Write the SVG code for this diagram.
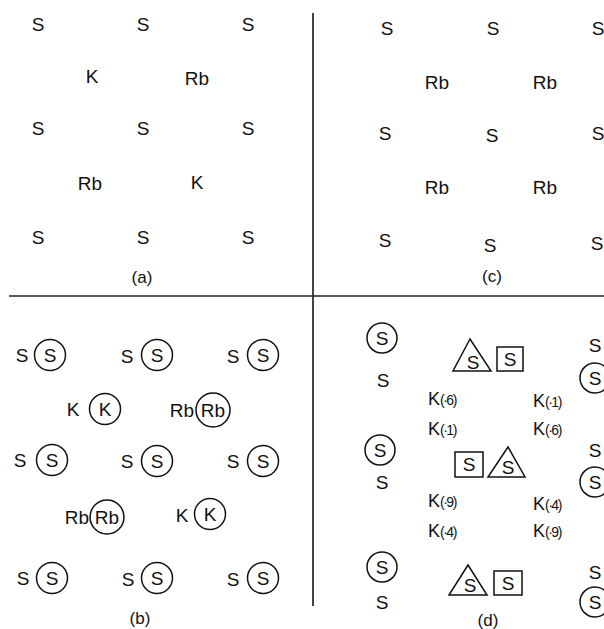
<svg xmlns="http://www.w3.org/2000/svg" width="604" height="629" viewBox="0 0 604 629">
<style>
text{font-family:"Liberation Sans","DejaVu Sans",sans-serif;fill:#111;text-anchor:middle}
.t{font-size:19px}
.c{font-size:19px}
.lab{font-size:17px}
.k{font-size:18px;text-anchor:start}
.sm{font-size:14px;letter-spacing:-1.5px}
circle,rect,polygon{fill:none;stroke:#111;stroke-width:1.5}
line{stroke:#222;stroke-width:1.7}
</style>
<g id="dividers">
<line x1="9" y1="296" x2="604" y2="296"/>
<line x1="313" y1="13" x2="313" y2="606"/>
</g>
<g id="quadrant-a">
<g id="a-row1"><text class="t" x="38" y="31">S</text><text class="t" x="143" y="31">S</text><text class="t" x="248" y="31">S</text></g>
<g id="a-row2"><text class="t" x="92" y="83">K</text><text class="t" x="197" y="85">Rb</text></g>
<g id="a-row3"><text class="t" x="38" y="135">S</text><text class="t" x="143" y="135">S</text><text class="t" x="248" y="135">S</text></g>
<g id="a-row4"><text class="t" x="90" y="190">Rb</text><text class="t" x="197" y="189">K</text></g>
<g id="a-row5"><text class="t" x="38" y="244">S</text><text class="t" x="143" y="244">S</text><text class="t" x="248" y="244">S</text></g>
<text class="lab" x="142" y="283">(a)</text>
</g>
<g id="quadrant-c">
<g id="c-row1"><text class="t" x="387" y="35">S</text><text class="t" x="493" y="35">S</text><text class="t" x="598" y="35">S</text></g>
<g id="c-row2"><text class="t" x="437" y="89">Rb</text><text class="t" x="545" y="89">Rb</text></g>
<g id="c-row3"><text class="t" x="385" y="140">S</text><text class="t" x="492" y="142">S</text><text class="t" x="598" y="140">S</text></g>
<g id="c-row4"><text class="t" x="437" y="194">Rb</text><text class="t" x="545" y="194">Rb</text></g>
<g id="c-row5"><text class="t" x="385" y="247">S</text><text class="t" x="490" y="252">S</text><text class="t" x="597" y="250">S</text></g>
<text class="lab" x="492" y="282">(c)</text>
</g>
<g id="quadrant-b">
<g id="b-s11"><text class="t" x="22" y="362">S</text><circle cx="50" cy="355" r="15.5"/><text class="c" x="50" y="362">S</text></g>
<g id="b-s12"><text class="t" x="127" y="363">S</text><circle cx="157" cy="355" r="15.5"/><text class="c" x="157" y="362">S</text></g>
<g id="b-s13"><text class="t" x="233" y="363">S</text><circle cx="263" cy="355" r="15.5"/><text class="c" x="263" y="362">S</text></g>
<g id="b-k1"><text class="t" x="73" y="416">K</text><circle cx="105" cy="409" r="15.5"/><text class="c" x="105" y="416">K</text></g>
<g id="b-rb1"><text class="t" x="182" y="417">Rb</text><circle cx="213" cy="410" r="17"/><text class="c" x="213" y="417">Rb</text></g>
<g id="b-s21"><text class="t" x="20" y="467">S</text><circle cx="52" cy="460" r="15.5"/><text class="c" x="52" y="467">S</text></g>
<g id="b-s22"><text class="t" x="127" y="468">S</text><circle cx="157" cy="461" r="15.5"/><text class="c" x="157" y="468">S</text></g>
<g id="b-s23"><text class="t" x="233" y="468">S</text><circle cx="263" cy="461" r="15.5"/><text class="c" x="263" y="468">S</text></g>
<g id="b-rb2"><text class="t" x="77" y="524">Rb</text><circle cx="107" cy="517" r="17"/><text class="c" x="107" y="524">Rb</text></g>
<g id="b-k2"><text class="t" x="182" y="522">K</text><circle cx="210" cy="514" r="15.5"/><text class="c" x="210" y="521">K</text></g>
<g id="b-s31"><text class="t" x="23" y="585">S</text><circle cx="52" cy="578" r="15.5"/><text class="c" x="52" y="585">S</text></g>
<g id="b-s32"><text class="t" x="128" y="586">S</text><circle cx="157" cy="578" r="15.5"/><text class="c" x="157" y="585">S</text></g>
<g id="b-s33"><text class="t" x="233" y="586">S</text><circle cx="263" cy="578" r="15.5"/><text class="c" x="263" y="585">S</text></g>
<text class="lab" x="140" y="624">(b)</text>
</g>
<g id="quadrant-d">
<g id="d-l1"><circle cx="382" cy="338" r="15"/><text class="c" x="382" y="345">S</text><text class="t" x="383" y="387">S</text></g>
<g id="d-l2"><circle cx="380" cy="450" r="15"/><text class="c" x="380" y="457">S</text><text class="t" x="382" y="489">S</text></g>
<g id="d-l3"><circle cx="382" cy="567" r="15"/><text class="c" x="382" y="574">S</text><text class="t" x="382" y="609">S</text></g>
<g id="d-pair1"><polygon points="470,339 453,371 491,371"/><text class="c" x="473" y="369">S</text><rect x="497" y="347" width="26" height="24"/><text class="c" x="510" y="366">S</text></g>
<g id="d-k1"><text class="k" x="428" y="405">K<tspan class="sm">(·6)</tspan></text><text class="k" x="533" y="407">K<tspan class="sm">(·1)</tspan></text></g>
<g id="d-k2"><text class="k" x="428" y="435">K<tspan class="sm">(·1)</tspan></text><text class="k" x="533" y="435">K<tspan class="sm">(·6)</tspan></text></g>
<g id="d-pair2"><rect x="455" y="452" width="28" height="25"/><text class="c" x="469" y="471">S</text><polygon points="508,447 488,477 525,477"/><text class="c" x="508" y="474">S</text></g>
<g id="d-k3"><text class="k" x="428" y="507">K<tspan class="sm">(·9)</tspan></text><text class="k" x="533" y="510">K<tspan class="sm">(·4)</tspan></text></g>
<g id="d-k4"><text class="k" x="428" y="537">K<tspan class="sm">(·4)</tspan></text><text class="k" x="533" y="537">K<tspan class="sm">(·9)</tspan></text></g>
<g id="d-pair3"><polygon points="468,565 449,595 487,595"/><text class="c" x="470" y="592">S</text><rect x="494" y="571" width="28" height="24"/><text class="c" x="508" y="590">S</text></g>
<g id="d-r1"><text class="t" x="595" y="352">S</text><circle cx="595" cy="378" r="15"/><text class="c" x="595" y="385">S</text></g>
<g id="d-r2"><text class="t" x="595" y="457">S</text><circle cx="595" cy="482" r="15"/><text class="c" x="595" y="489">S</text></g>
<g id="d-r3"><text class="t" x="595" y="579">S</text><circle cx="595" cy="602" r="15"/><text class="c" x="595" y="609">S</text></g>
<text class="lab" x="488" y="626">(d)</text>
</g>
</svg>
